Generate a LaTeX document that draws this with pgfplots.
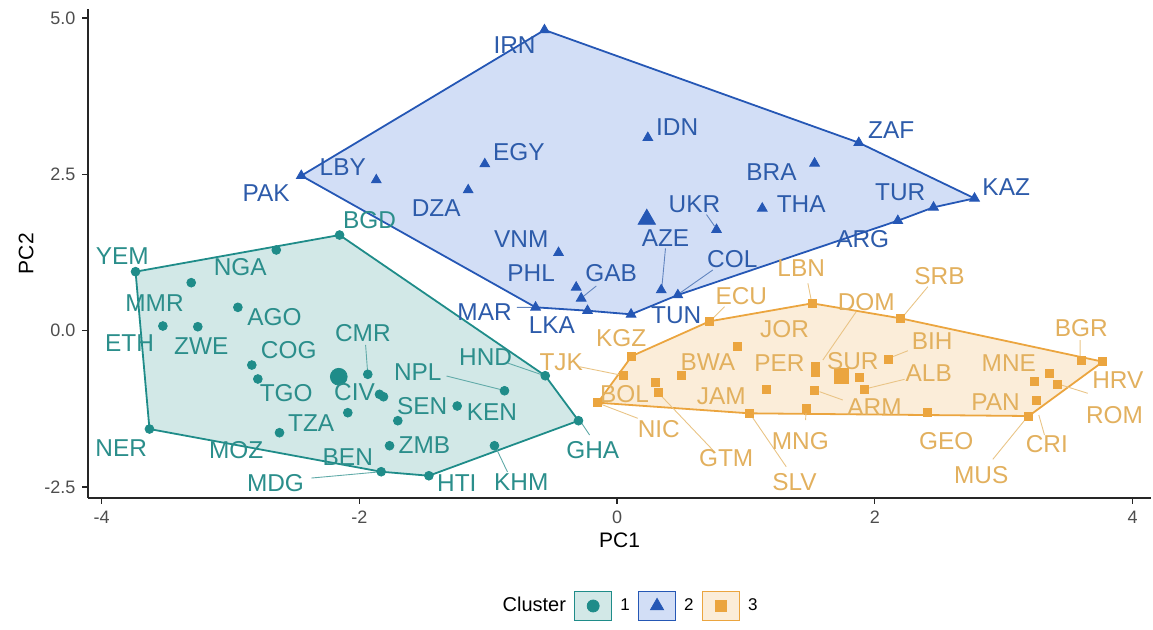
\documentclass[border=0pt]{standalone}
\usepackage{pgfplots}
\pgfplotsset{compat=1.18}
\usepackage{pgfplotstable}
\usepackage{fontspec}
\setmainfont{Liberation Sans}

\definecolor{cA}{HTML}{1F8C89}
\definecolor{cB}{HTML}{2557B5}
\definecolor{fB}{HTML}{1F5CD0}
\definecolor{cC}{HTML}{EBA53F}
\definecolor{tA}{HTML}{2B8E8B}
\definecolor{tB}{HTML}{2D5BAA}
\definecolor{tC}{HTML}{E2B05E}
\definecolor{tickgray}{HTML}{4D4D4D}

% ---- cluster 1 ----
\pgfplotstableread{
x y
-3.736 0.944
-2.153 1.530
-2.644 1.291
-3.304 0.768
-2.942 0.374
-3.524 0.075
-3.253 0.064
-2.834 -0.549
-2.787 -0.772
-1.934 -0.697
-1.843 -1.017
-1.812 -1.056
-2.089 -1.311
-2.619 -1.631
-3.628 -1.572
-1.830 -2.255
-1.460 -2.319
-1.765 -1.839
-1.701 -1.439
-1.240 -1.204
-0.873 -0.960
-0.951 -1.839
-0.557 -0.720
-0.299 -1.439
}\ptsA
\pgfplotstableread{
x y lab
-3.839 1.195 YEM
-2.924 1.014 NGA
-1.920 1.770 BGD
-3.589 0.448 MMR
-2.658 0.224 AGO
-3.783 -0.192 ETH
-3.226 -0.245 ZWE
-2.547 -0.309 COG
-1.972 -0.032 CMR
-2.567 -1.001 TGO
-2.037 -0.976 CIV
-2.373 -1.481 TZA
-3.847 -1.881 NER
-2.955 -1.908 MOZ
-2.089 -2.025 BEN
-2.650 -2.431 MDG
-1.546 -0.656 NPL
-1.512 -1.204 SEN
-0.971 -1.295 KEN
-1.494 -1.828 ZMB
-1.243 -2.440 HTI
-0.743 -2.415 KHM
-1.020 -0.416 HND
-0.188 -1.908 GHA
}\labA
\pgfplotstableread{
x y
-1.951 -0.227
-1.936 -0.643
nan nan
-1.323 -0.724
-0.888 -0.948
nan nan
-2.371 -2.356
-1.858 -2.260
nan nan
-0.850 -2.259
-0.935 -1.892
nan nan
-0.850 -0.516
-0.578 -0.708
nan nan
-0.275 -1.476
-0.213 -1.668
}\segA

% ---- cluster 2 ----
\pgfplotstableread{
x y
-0.563 4.809
-2.450 2.479
-1.868 2.410
-1.026 2.666
-1.155 2.250
0.239 3.087
1.533 2.677
1.876 3.007
2.774 2.117
2.456 1.973
2.179 1.759
1.127 1.957
0.772 1.615
-0.454 1.247
-0.317 0.694
-0.278 0.518
0.343 0.651
0.472 0.571
-0.229 0.320
0.109 0.262
-0.632 0.374
}\ptsB
\pgfplotstableread{
x y lab
-0.795 4.569 IRN
-2.722 2.197 PAK
-2.128 2.623 LBY
-0.762 2.863 EGY
-1.403 1.957 DZA
0.467 3.262 IDN
1.199 2.538 BRA
2.128 3.210 ZAF
3.020 2.303 KAZ
2.198 2.207 TUR
1.429 2.026 THA
1.907 1.462 ARG
0.601 2.026 UKR
0.376 1.478 AZE
-0.743 1.462 VNM
-0.666 0.928 PHL
-0.045 0.928 GAB
0.894 1.142 COL
-1.028 0.304 MAR
-0.506 0.091 LKA
0.459 0.240 TUN
}\labB
\pgfplotstableread{
x y
0.694 1.858
0.757 1.672
nan nan
0.376 1.318
0.348 0.694
nan nan
0.743 0.971
0.485 0.598
nan nan
-0.161 0.715
-0.270 0.534
nan nan
-0.778 0.374
-0.648 0.374
}\segB

% ---- cluster 3 ----
\pgfplotstableread{
x y
0.718 0.150
0.115 -0.405
0.053 -0.720
-0.149 -1.151
0.299 -0.832
0.324 -0.985
0.498 -0.708
0.937 -0.249
1.160 -0.944
1.026 -1.321
1.515 0.438
2.200 0.198
1.540 -0.576
1.540 -0.672
1.882 -0.745
2.107 -0.457
1.532 -0.960
1.920 -0.937
1.468 -1.241
2.412 -1.311
3.602 -0.480
3.770 -0.496
3.356 -0.681
3.240 -0.816
3.420 -0.852
3.253 -1.119
3.195 -1.364
}\ptsC
\pgfplotstableread{
x y lab
0.964 0.555 ECU
0.033 -0.122 KGZ
-0.433 -0.496 TJK
0.058 -1.012 BOL
0.324 -1.577 NIC
0.847 -2.041 GTM
0.705 -0.496 BWA
0.809 -1.055 JAM
1.300 0.022 JOR
1.429 0.998 LBN
1.934 0.464 DOM
2.502 0.875 SRB
2.446 -0.160 BIH
1.261 -0.512 PER
1.830 -0.480 SUR
2.419 -0.681 ALB
1.998 -1.225 ARM
1.422 -1.759 MNG
1.377 -2.415 SLV
2.554 -1.759 GEO
3.602 0.038 BGR
3.040 -0.512 MNE
3.886 -0.788 HRV
2.937 -1.135 PAN
3.860 -1.348 ROM
3.335 -1.812 CRI
2.826 -2.308 MUS
}\labC
\pgfplotstableread{
x y
-0.291 -0.576
0.025 -0.708
nan nan
0.834 0.384
0.731 0.171
nan nan
0.161 -1.401
-0.123 -1.177
nan nan
0.743 -1.908
0.324 -1.001
nan nan
1.481 0.758
1.507 0.491
nan nan
1.856 0.304
1.597 -0.469
nan nan
2.412 0.704
2.218 0.224
nan nan
2.257 -0.320
2.128 -0.425
nan nan
2.231 -0.777
1.946 -0.921
nan nan
1.752 -1.108
1.571 -0.975
nan nan
1.463 -1.428
1.468 -1.268
nan nan
1.313 -2.175
1.044 -1.364
nan nan
3.594 -0.149
3.594 -0.416
nan nan
3.653 -1.001
3.447 -0.868
nan nan
3.317 -1.668
3.273 -1.348
nan nan
2.916 -2.057
3.175 -1.401
}\segC

\pgfplotsset{
  ptlabel/.style={only marks, mark=none, nodes near coords,
    point meta=explicit symbolic,
    every node near coord/.append style={anchor=center, inner sep=0pt,
      font=\fontsize{12.2}{14}\selectfont, text=#1}},
  connector/.style={draw=#1!75, line width=0.45pt, unbounded coords=jump, mark=none, forget plot},
}

\begin{document}
\begin{tikzpicture}
\path[use as bounding box] (-44pt,-66pt) rectangle (532.5pt,249pt);
\begin{axis}[
  scale only axis,
  width=531.6pt, height=244.35pt,
  xmin=-4.105, xmax=4.145, ymin=-2.675, ymax=5.14,
  axis lines=left, axis line style={-, line width=0.8pt, black!85},
  tick align=outside, major tick length=2.8pt,
  tick style={line width=0.7pt, black!85},
  xtick={-4,-2,0,2,4}, xticklabels={-4,-2,0,2,4},
  ytick={-2.5,0,2.5,5}, yticklabels={-2.5,0.0,2.5,5.0},
  ticklabel style={font=\fontsize{9}{11}\selectfont, text=tickgray},
  xlabel={PC1}, ylabel={PC2},
  label style={font=\fontsize{10.5}{12}\selectfont},
  xlabel style={yshift=2pt},
  ylabel style={yshift=-1.5pt},
  clip=false,
  legend style={at={(axis description cs:0.508,-0.221)}, anchor=center,
    draw=none, legend columns=-1, font=\fontsize{10}{12}\selectfont,
    /tikz/every even column/.append style={column sep=2pt},
    /tikz/every odd column/.append style={column sep=2pt}},
]
% hulls
\addplot[fill=cA, fill opacity=0.2, draw=cA, line width=0.9pt, forget plot]
  coordinates {(-3.736,0.944) (-2.153,1.530) (-0.557,-0.720) (-0.299,-1.439)
               (-1.460,-2.319) (-1.830,-2.255) (-3.628,-1.572)} -- cycle;
\addplot[fill=fB, fill opacity=0.2, draw=cB, line width=0.9pt, forget plot]
  coordinates {(-2.450,2.479) (-0.563,4.809) (1.876,3.007) (2.774,2.117)
               (2.456,1.973) (2.179,1.759) (0.472,0.571) (0.109,0.262)
               (-0.229,0.320) (-0.632,0.374)} -- cycle;
\addplot[fill=cC, fill opacity=0.2, draw=cC, line width=0.9pt, forget plot]
  coordinates {(-0.149,-1.151) (0.115,-0.405) (0.718,0.150) (1.515,0.438)
               (2.200,0.198) (3.770,-0.496) (3.195,-1.364) (1.026,-1.321)} -- cycle;

% label connectors
\addplot[connector=tA] table {\segA};
\addplot[connector=tB] table {\segB};
\addplot[connector=tC] table {\segC};

% points
\addplot[only marks, mark=*, mark size=2.2pt, color=cA, forget plot] table {\ptsA};
\addplot[only marks, mark=triangle*, mark size=2.8pt, color=cB, forget plot] table {\ptsB};
\addplot[only marks, mark=square*, mark size=2.0pt, color=cC, forget plot] table {\ptsC};

% cluster centres
\addplot[only marks, mark=*, mark size=4.2pt, color=cA, forget plot] coordinates {(-2.159,-0.736)};
\addplot[only marks, mark=triangle*, mark size=5pt, color=cB, forget plot] coordinates {(0.231,1.782)};
\addplot[only marks, mark=square*, mark size=3.6pt, color=cC, forget plot] coordinates {(1.740,-0.724)};

% country labels
\addplot[ptlabel=tA, forget plot] table[meta=lab] {\labA};
\addplot[ptlabel=tB, forget plot] table[meta=lab] {\labB};
\addplot[ptlabel=tC, forget plot] table[meta=lab] {\labC};

% legend
\addlegendimage{empty legend}
\addlegendentry{Cluster}
\addlegendimage{legend image code/.code={
  \draw[fill=cA!20, draw=cA, line width=0.7pt] (0pt,-7.25pt) rectangle (18.5pt,7.25pt);
  \draw[cA] plot[only marks, mark=*, mark size=3pt] coordinates {(9.25pt,0pt)};}}
\addlegendentry{\fontsize{8.5}{10}\selectfont 1}
\addlegendimage{legend image code/.code={
  \draw[fill=fB!20, draw=cB, line width=0.7pt] (0pt,-7.25pt) rectangle (18.5pt,7.25pt);
  \draw[cB] plot[only marks, mark=triangle*, mark size=3.8pt] coordinates {(9.25pt,0pt)};}}
\addlegendentry{\fontsize{8.5}{10}\selectfont 2}
\addlegendimage{legend image code/.code={
  \draw[fill=cC!20, draw=cC, line width=0.7pt] (0pt,-7.25pt) rectangle (18.5pt,7.25pt);
  \draw[cC] plot[only marks, mark=square*, mark size=2.8pt] coordinates {(9.25pt,0pt)};}}
\addlegendentry{\fontsize{8.5}{10}\selectfont 3}
\end{axis}
\end{tikzpicture}
\end{document}
